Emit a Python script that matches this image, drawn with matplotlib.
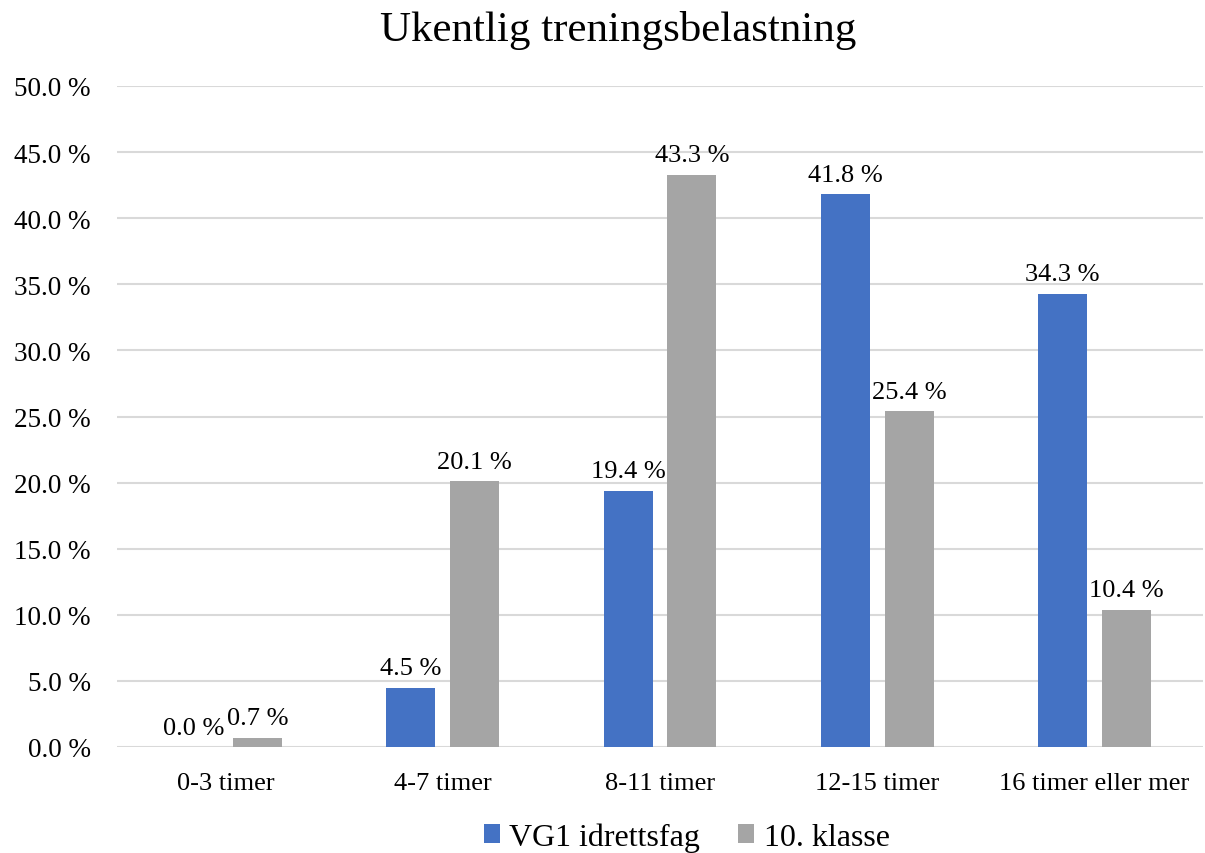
import matplotlib
matplotlib.use("Agg")
import matplotlib.pyplot as plt
import numpy as np

plt.rcParams['font.family'] = ['Liberation Serif', 'DejaVu Serif']

categories = ["0-3 timer", "4-7 timer", "8-11 timer", "12-15 timer", "16 timer eller mer"]
vg1 = [0.0, 4.5, 19.4, 41.8, 34.3]
klasse10 = [0.7, 20.1, 43.3, 25.4, 10.4]
series_names = ["VG1 idrettsfag", "10. klasse"]
yticks = [0, 5, 10, 15, 20, 25, 30, 35, 40, 45, 50]

blue = "#4472C4"
gray = "#A5A5A5"

fig = plt.figure(figsize=(12.05, 8.54), dpi=100)
ax = fig.add_axes([117 / 1205, 1 - 748 / 854, (1203 - 117) / 1205, (748 - 87) / 854])

x = np.arange(len(categories))
w = 0.225
off = 0.147
b1 = ax.bar(x - off, vg1, width=w, color=blue, label=series_names[0], zorder=3)
b2 = ax.bar(x + off, klasse10, width=w, color=gray, label=series_names[1], zorder=3)

for bars, vals in ((b1, vg1), (b2, klasse10)):
    for rect, v in zip(bars, vals):
        ax.annotate(f"{v:.1f} %", (rect.get_x() + rect.get_width() / 2, v),
                    xytext=(0, 6), textcoords="offset points",
                    ha="center", va="bottom", fontsize=19)

ax.set_xlim(-0.5, len(categories) - 0.5)
ax.set_ylim(0, 50)
ax.set_yticks(yticks)
ax.set_yticklabels([f"{t:.1f} %" for t in yticks], fontsize=19.5)
ax.set_xticks(x)
ax.set_xticklabels(categories, fontsize=19)
ax.tick_params(axis="x", length=0, pad=18)
ax.tick_params(axis="y", length=0, pad=19)
ax.grid(axis="y", color="#D9D9D9", linewidth=1.5, zorder=0)
for s in ax.spines.values():
    s.set_visible(False)

fig.text(0.513, 1 - 31 / 854, "Ukentlig treningsbelastning", ha="center", va="center", fontsize=31)

fig.legend(handles=[b1, b2], labels=series_names, loc="center", bbox_to_anchor=(0.57, 1 - 838 / 854),
           ncol=2, frameon=False, fontsize=23, handlelength=0.5, handleheight=0.5,
           handletextpad=0.3, columnspacing=1.2)

fig.savefig("out.png", dpi=100)
